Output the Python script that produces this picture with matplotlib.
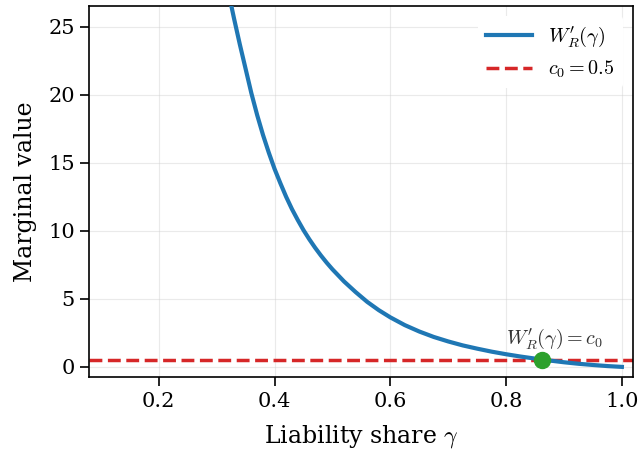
import matplotlib
matplotlib.use("Agg")
import matplotlib.pyplot as plt
import numpy as np

# values
gamma = [0.322, 0.33, 0.34, 0.35, 0.36, 0.37, 0.38, 0.39, 0.40, 0.41, 0.42,
         0.43, 0.44, 0.45, 0.46, 0.47, 0.48, 0.49, 0.50, 0.52, 0.54, 0.56,
         0.58, 0.60, 0.625, 0.65, 0.675, 0.70, 0.725, 0.75, 0.775, 0.80,
         0.825, 0.85, 0.875, 0.90, 0.925, 0.95, 0.975, 1.00]
marginal = [27.2, 25.6, 23.7, 21.9, 20.1, 18.5, 17.05, 15.75, 14.55, 13.5, 12.5,
            11.6, 10.8, 10.05, 9.38, 8.76, 8.19, 7.66, 7.17, 6.28, 5.5, 4.78,
            4.17, 3.64, 3.07, 2.6, 2.2, 1.87, 1.58, 1.34, 1.12, 0.93,
            0.76, 0.61, 0.47, 0.34, 0.23, 0.14, 0.06, 0.0]
c0 = 0.5
gamma_star = 0.862

x_ticks = [0.2, 0.4, 0.6, 0.8, 1.0]
y_ticks = [0, 5, 10, 15, 20, 25]

plt.rcParams['font.family'] = 'DejaVu Serif'
plt.rcParams['mathtext.fontset'] = 'cm'

fig = plt.figure(figsize=(6.38, 4.5), dpi=100)
ax = fig.add_axes([0.140, 0.162, 0.852, 0.824])

ax.plot(gamma, marginal, color='#1f77b4', lw=3.0, label=r"$W_R'(\gamma)$",
        zorder=3, solid_joinstyle='round')
ax.axhline(c0, color='#d62728', lw=2.5, ls='--', label=r"$c_0 = 0.5$", zorder=2)
ax.plot([gamma_star], [c0], 'o', color='#2ca02c', ms=11.5, zorder=4)
ax.text(gamma_star + 0.022, c0 + 1.6, r"$W_R'(\gamma) = c_0$", ha='center', va='center',
        fontsize=14.5, color='#333333')

ax.set_xlim(0.08, 1.019)
ax.set_ylim(-0.75, 26.5)
ax.set_xticks(x_ticks)
ax.set_yticks(y_ticks)
ax.set_xticklabels([f"{t:.1f}" for t in x_ticks])
ax.grid(True, color='#cccccc', lw=0.8, alpha=0.4)
ax.set_axisbelow(True)
ax.tick_params(labelsize=15, length=6.5, width=1.2, direction='out', pad=4)
for s in ax.spines.values():
    s.set_linewidth(1.2)

ax.set_xlabel(r"Liability share $\gamma$", fontsize=17, labelpad=9)
ax.set_ylabel("Marginal value", fontsize=17, labelpad=8)

leg = ax.legend(loc='upper right', fontsize=14.5, frameon=True, framealpha=1,
                edgecolor='none', handlelength=2.3)

fig.savefig("out.png", dpi=100)
